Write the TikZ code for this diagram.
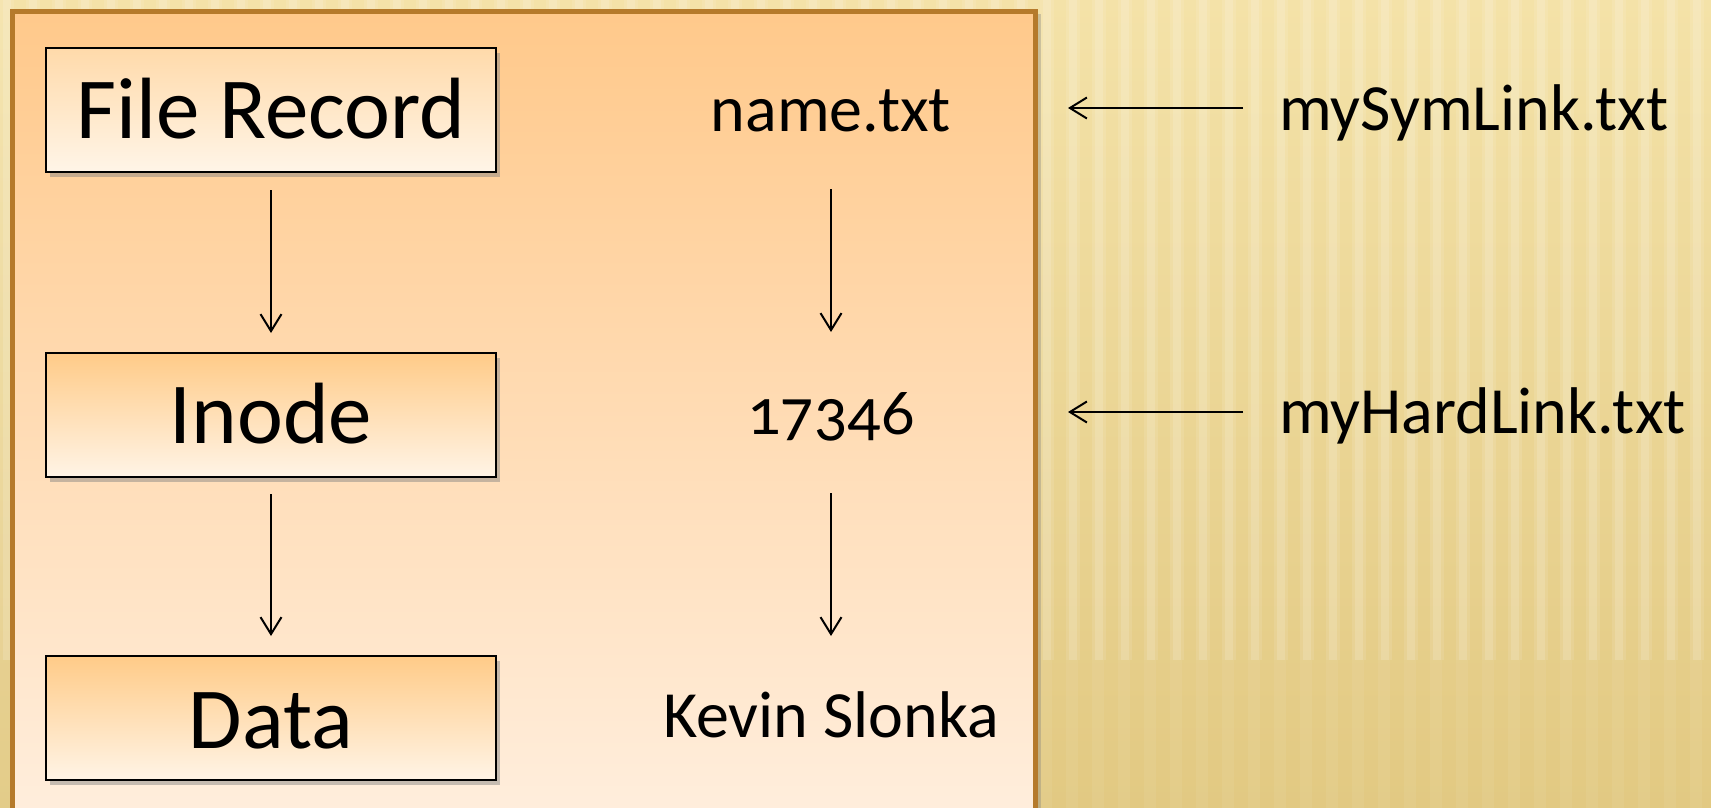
\documentclass[tikz,border=0pt]{standalone}
\usepackage{fontspec}
\setmainfont{Carlito}[Numbers=OldStyle]
\usetikzlibrary{arrows.meta,shadows}
\definecolor{bgtop}{HTML}{F4E2A8}
\definecolor{bgbot}{HTML}{E2C982}
\definecolor{panelborder}{HTML}{B57A2B}
\definecolor{paneltop}{HTML}{FFC98B}
\definecolor{panelbot}{HTML}{FFEFDF}
\definecolor{boxtop}{HTML}{FFCB88}
\definecolor{boxbot}{HTML}{FFF4E6}
\definecolor{frtop}{HTML}{FFDAAA}
\definecolor{frbot}{HTML}{FFF5E8}
\tikzset{
  bigbox/.style={draw=black, line width=2pt, minimum width=450pt, minimum height=124pt,
    inner sep=0pt, top color=boxtop, bottom color=boxbot,
    drop shadow={shadow xshift=4pt, shadow yshift=-5pt, opacity=0.45},
    font=\fontsize{87}{90}\selectfont},
  bigtext/.style={anchor=base, inner sep=0pt, font=\fontsize{87}{90}\selectfont},
  smalltext/.style={inner sep=0pt, font=\fontsize{66}{70}\selectfont},
  arr/.style={line width=2pt, -{Straight Barb[length=17pt,width=21pt,line width=2pt]}},
}
\begin{document}
\begin{tikzpicture}[x=1pt,y=-1pt]
\useasboundingbox (0,0) rectangle (1711,808);
% background
\shade[top color=bgtop, bottom color=bgbot] (0,0) rectangle (1711,808);
\foreach \i in {0,26,...,1710} {
  \fill[white,opacity=0.10] (\i,0) rectangle ++(14,660);
  \fill[white,opacity=0.14] (\i+3,0) rectangle ++(8,660);
  \fill[white,opacity=0.06] (\i,660) rectangle ++(12,148);
}
% panel
\draw[draw=panelborder, line width=5pt, top color=paneltop, bottom color=panelbot,
  drop shadow={shadow xshift=6pt, shadow yshift=-2pt, opacity=0.35}]
  (12,12) rectangle (1035,840);
% boxes
\node[bigbox, top color=frtop, bottom color=frbot] (fr) at (271,110) {};
\node[bigtext] (frt) at (271,138) {File Record};
\node[bigbox] (in) at (271,415) {};
\node[bigtext] (int) at (271,443) {Inode};
\node[bigbox] (da) at (271,718) {};
\node[bigtext] (dat) at (271,748) {Data};
% right column
\node[smalltext, anchor=base] (nm) at (831,131) {name.txt};
\node[smalltext, anchor=base] (num) at (831,434) {17346};
\node[smalltext, anchor=base] (kev) at (831,737) {Kevin Slonka};
\node[smalltext, anchor=base west] (sym) at (1279,130) {mySymLink.txt};
\node[smalltext, anchor=base west] (hard) at (1279,433) {myHardLink.txt};
% arrow end points in the right column
\coordinate (c1) at (831,189);
\coordinate (c2) at (831,332);
\coordinate (c3) at (831,493);
\coordinate (c4) at (831,636);
% arrows
\draw[arr, shorten <=17pt, shorten >=19pt] (fr.south) -- (in.north);
\draw[arr, shorten <=16pt, shorten >=19pt] (in.south) -- (da.north);
\draw[arr] (c1) -- (c2);
\draw[arr] (c3) -- (c4);
\coordinate (t1) at (1068,108);
\coordinate (t2) at (1068,412);
\draw[arr] (sym.west |- t1) ++(-36pt,0) -- (t1);
\draw[arr] (hard.west |- t2) ++(-36pt,0) -- (t2);
\end{tikzpicture}
\end{document}
